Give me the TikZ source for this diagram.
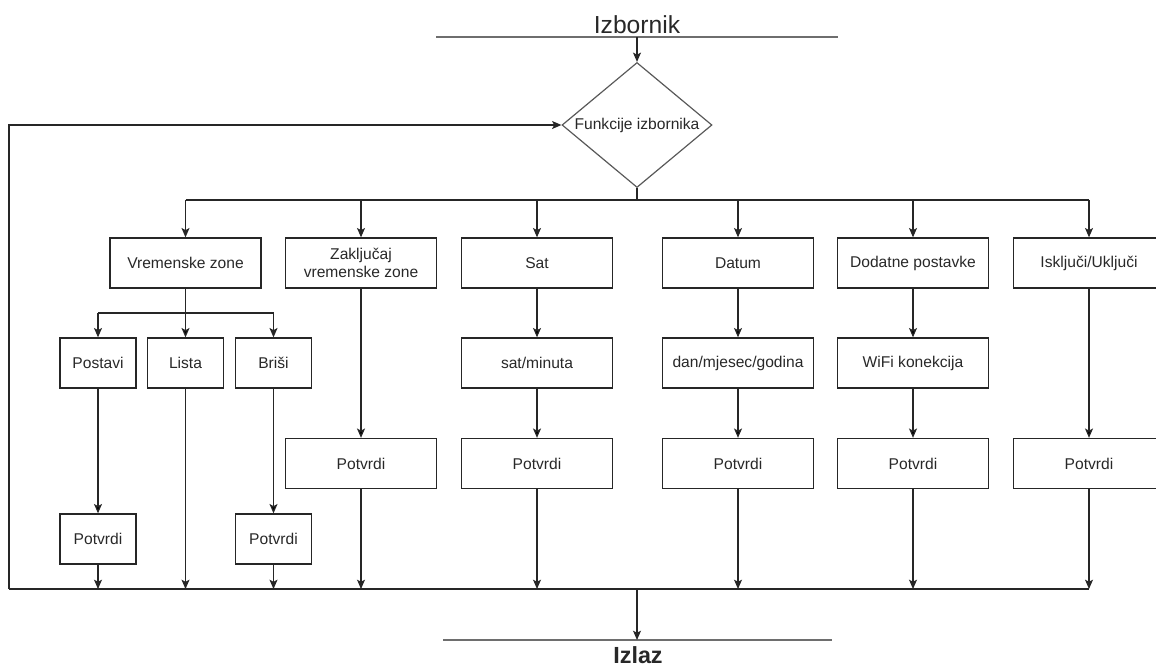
\documentclass[tikz,border=0pt]{standalone}
\usepackage{fontspec}
\setmainfont{Liberation Sans}
\usepackage{xcolor}
\usepackage{tikz}
\usetikzlibrary{positioning, shapes.geometric}
\usetikzlibrary{arrows.meta}
\definecolor{linegray}{RGB}{110,110,110}
\definecolor{textgray}{RGB}{40,40,40}

\begin{document}
\begin{tikzpicture}[x=0.75pt, y=-0.75pt]
                \tikzset{box/.style = {draw=black!85, line width=1pt, minimum width=113.3pt, minimum height=37.5pt, inner sep=1pt, align=center, text=textgray, font=\fontsize{11.7}{13.5}\selectfont}}
                \tikzset{smallbox/.style = {box, minimum width=57pt}}
                \tikzset{arr/.style = {-{Stealth[length=7pt, width=6pt, inset=1.6pt]}, line width=0.9pt, draw=black!85}}
                \tikzset{ln/.style = {line width=0.9pt, draw=black!85}}
                \tikzset{titleline/.style = {line width=1.1pt, draw=linegray}}

                \useasboundingbox (0,0) rectangle (1156,668);
                \clip (0,0) rectangle (1156,668);

                % title and exit
                \node[anchor=base, inner sep=0pt, text=textgray, font=\fontsize{18.5}{20}\selectfont] (izb) at (637,33) {Izbornik};
                \coordinate (izbL) at (436,37);
                \coordinate (izbR) at (838,37);
                \node[anchor=base, inner sep=0pt, text=textgray, font=\bfseries\fontsize{17.5}{20}\selectfont] (izl) at (638,663) {Izlaz};
                \coordinate (izlL) at (443,640);
                \coordinate (izlR) at (832,640);

                \node[diamond, aspect=1.2, draw=black!65, line width=0.9pt, inner sep=0pt, minimum width=112.5pt, minimum height=93.75pt, text=textgray, font=\fontsize{11.7}{13.5}\selectfont] (fun) at (637,125) {Funkcije izbornika};

                % first row
                \node[box] (vzone) at (185.5,263) {Vremenske zone};
                \node[box] (zakl)  at (361,263)   {Zaključaj\\vremenske zone};
                \node[box] (sat)   at (537,263)   {Sat};
                \node[box] (datum) at (738,263)   {Datum};
                \node[box] (dodat) at (913,263)   {Dodatne postavke};
                \node[box] (iskl)  at (1089,263)  {Isključi/Uključi};

                % second row
                \node[smallbox] (postavi) at (98,363)    {Postavi};
                \node[smallbox] (lista)   at (185.5,363) {Lista};
                \node[smallbox] (brisi)   at (273.5,363) {Briši};
                \node[box] (satmin) at (537,363) {sat/minuta};
                \node[box] (dmg)    at (738,363) {dan/mjesec/godina};
                \node[box] (wifi)   at (913,363) {WiFi konekcija};

                % confirm boxes
                \node[box] (potZakl) at (361,463.5)  {Potvrdi};
                \node[box] (potSat)  at (537,463.5)  {Potvrdi};
                \node[box] (potDat)  at (738,463.5)  {Potvrdi};
                \node[box] (potDod)  at (913,463.5)  {Potvrdi};
                \node[box] (potIskl) at (1089,463.5) {Potvrdi};
                \node[smallbox] (potPost) at (98,539)    {Potvrdi};
                \node[smallbox] (potBris) at (273.5,539) {Potvrdi};

                \coordinate (brT)  at (637,200);
                \coordinate (subT) at (185.5,313);
                \coordinate (botL) at (9,589);
                \coordinate (botM) at (637,589);
                \coordinate (botR) at (1089,589);

                \draw[titleline] (izbL) -- (izbR);
                \draw[titleline] (izlL) -- (izlR);
                \draw[arr] (fun |- izbL) -- (fun.north);

                % branching from the menu
                \draw[ln] (fun.south) -- (brT);
                \draw[ln] (vzone |- brT) -- (iskl |- brT);
                \draw[arr] (vzone |- brT) -- (vzone.north);
                \draw[arr] (zakl |- brT) -- (zakl.north);
                \draw[arr] (sat |- brT) -- (sat.north);
                \draw[arr] (datum |- brT) -- (datum.north);
                \draw[arr] (dodat |- brT) -- (dodat.north);
                \draw[arr] (iskl |- brT) -- (iskl.north);

                \draw[arr] (vzone) edge (lista);
                \draw[ln] (postavi |- subT) -- (brisi |- subT);
                \draw[arr] (postavi |- subT) -- (postavi.north);
                \draw[arr] (brisi |- subT) -- (brisi.north);

                % columns
                \draw[arr] (postavi) edge (potPost);
                \draw[arr] (brisi) edge (potBris);
                \draw[arr] (zakl) edge (potZakl);
                \draw[arr] (sat) edge (satmin);
                \draw[arr] (satmin) edge (potSat);
                \draw[arr] (datum) edge (dmg);
                \draw[arr] (dmg) edge (potDat);
                \draw[arr] (dodat) edge (wifi);
                \draw[arr] (wifi) edge (potDod);
                \draw[arr] (iskl) edge (potIskl);

                % collecting line
                \draw[ln] (botL) -- (botR);
                \draw[arr] (potPost.south) -- (potPost |- botL);
                \draw[arr] (lista.south) -- (lista |- botL);
                \draw[arr] (potBris.south) -- (potBris |- botL);
                \draw[arr] (potZakl.south) -- (potZakl |- botL);
                \draw[arr] (potSat.south) -- (potSat |- botL);
                \draw[arr] (potDat.south) -- (potDat |- botL);
                \draw[arr] (potDod.south) -- (potDod |- botL);
                \draw[arr] (potIskl.south) -- (potIskl |- botL);

                % back to the menu and out
                \draw[arr] (botL) -- (botL |- fun) -- (fun.west);
                \draw[arr] (botM) -- (botM |- izlL);

\end{tikzpicture}
\end{document}
